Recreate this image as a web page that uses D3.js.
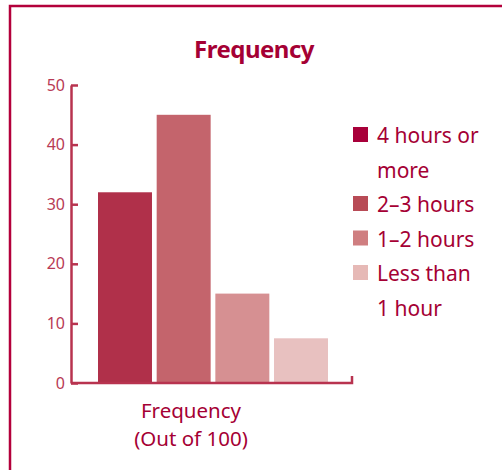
<!DOCTYPE html>
<html lang="en">
<head>
    <meta charset="UTF-8">
    <title>Frequency</title>
    <script src="https://d3js.org/d3.v7.min.js"></script>
    <style>
        body { margin: 0; background: #fff; }
        svg { display: block; font-family: "Noto Sans", "Open Sans", sans-serif; }
    </style>
</head>
<body>
    <svg id="chart" width="502" height="470"></svg>
    <script>
        // chart values
        const categories = ['4 hours or more', '2–3 hours', '1–2 hours', 'Less than 1 hour'];
        const values = [32, 45, 15, 7.5];
        const barColors = ['#b0304a', '#c4646c', '#d69092', '#e8c1c0'];
        const swatchColors = ['#a8003a', '#b84b56', '#cf7e80', '#e6b9b6'];
        const legendLines = [['4 hours or', 'more'], ['2–3 hours'], ['1–2 hours'], ['Less than', '1 hour']];
        const yTicks = [0, 10, 20, 30, 40, 50];

        const dark = '#a50034';
        const axisColor = '#b8334f';

        const svg = d3.select('#chart');

        // frame, runs off the right and bottom edges
        svg.append('rect')
            .attr('x', 10).attr('y', 6)
            .attr('width', 520).attr('height', 500)
            .attr('fill', 'none')
            .attr('stroke', '#b3003b')
            .attr('stroke-width', 2.5);

        svg.append('text')
            .attr('x', 254).attr('y', 58)
            .attr('text-anchor', 'middle')
            .attr('fill', dark)
            .style('font-size', '24px')
            .style('font-weight', 'bold')
            .style('letter-spacing', '-0.5px')
            .text('Frequency');

        const axisLeftX = 71, axisRightX = 352;

        const x = d3.scaleBand()
            .domain(categories)
            .range([98, 328])
            .paddingInner(0.08)
            .paddingOuter(0);

        const y = d3.scaleLinear()
            .domain([0, 50])
            .range([383, 85]);

        // bars
        svg.selectAll('.bar')
            .data(categories)
            .enter().append('rect')
            .attr('class', 'bar')
            .attr('x', d => x(d))
            .attr('width', x.bandwidth())
            .attr('y', (d, i) => y(values[i]))
            .attr('height', (d, i) => y(0) - y(values[i]))
            .attr('fill', (d, i) => barColors[i]);

        // y axis: ticks point inward, labels on the left
        const yAxis = svg.append('g')
            .attr('transform', `translate(${axisLeftX},0)`)
            .call(d3.axisLeft(y).tickValues(yTicks).tickSizeInner(-7).tickSizeOuter(0).tickPadding(6));
        yAxis.select('.domain').attr('stroke', axisColor).attr('stroke-width', 2.5);
        yAxis.selectAll('.tick line').attr('stroke', axisColor).attr('stroke-width', 2.5);
        yAxis.selectAll('.tick text')
            .attr('fill', '#b83a55')
            .style('font-size', '16px')
            .style('font-family', '"Noto Sans", sans-serif');

        // x axis baseline with an upturned end
        svg.append('path')
            .attr('d', `M${axisLeftX},${y(0)}H${axisRightX}V${y(0) - 7}`)
            .attr('fill', 'none')
            .attr('stroke', axisColor)
            .attr('stroke-width', 2.5);

        // x label
        const xLabel = svg.append('text')
            .attr('text-anchor', 'middle')
            .attr('fill', dark)
            .style('font-size', '20.5px');
        xLabel.append('tspan').attr('x', 191).attr('y', 418).text('Frequency');
        xLabel.append('tspan').attr('x', 191).attr('y', 446).text('(Out of 100)');

        // legend
        const lineH = 34.5;
        let row = 0;
        legendLines.forEach((lines, i) => {
            const top = 127 + row * lineH;
            svg.append('rect')
                .attr('x', 353).attr('y', top)
                .attr('width', 15).attr('height', 15)
                .attr('fill', swatchColors[i]);
            lines.forEach((t, j) => {
                svg.append('text')
                    .attr('x', 377)
                    .attr('y', top + 16 + j * lineH)
                    .attr('fill', dark)
                    .style('font-size', '21px')
                    .text(t);
            });
            row += lines.length;
        });
    </script>
</body>
</html>
